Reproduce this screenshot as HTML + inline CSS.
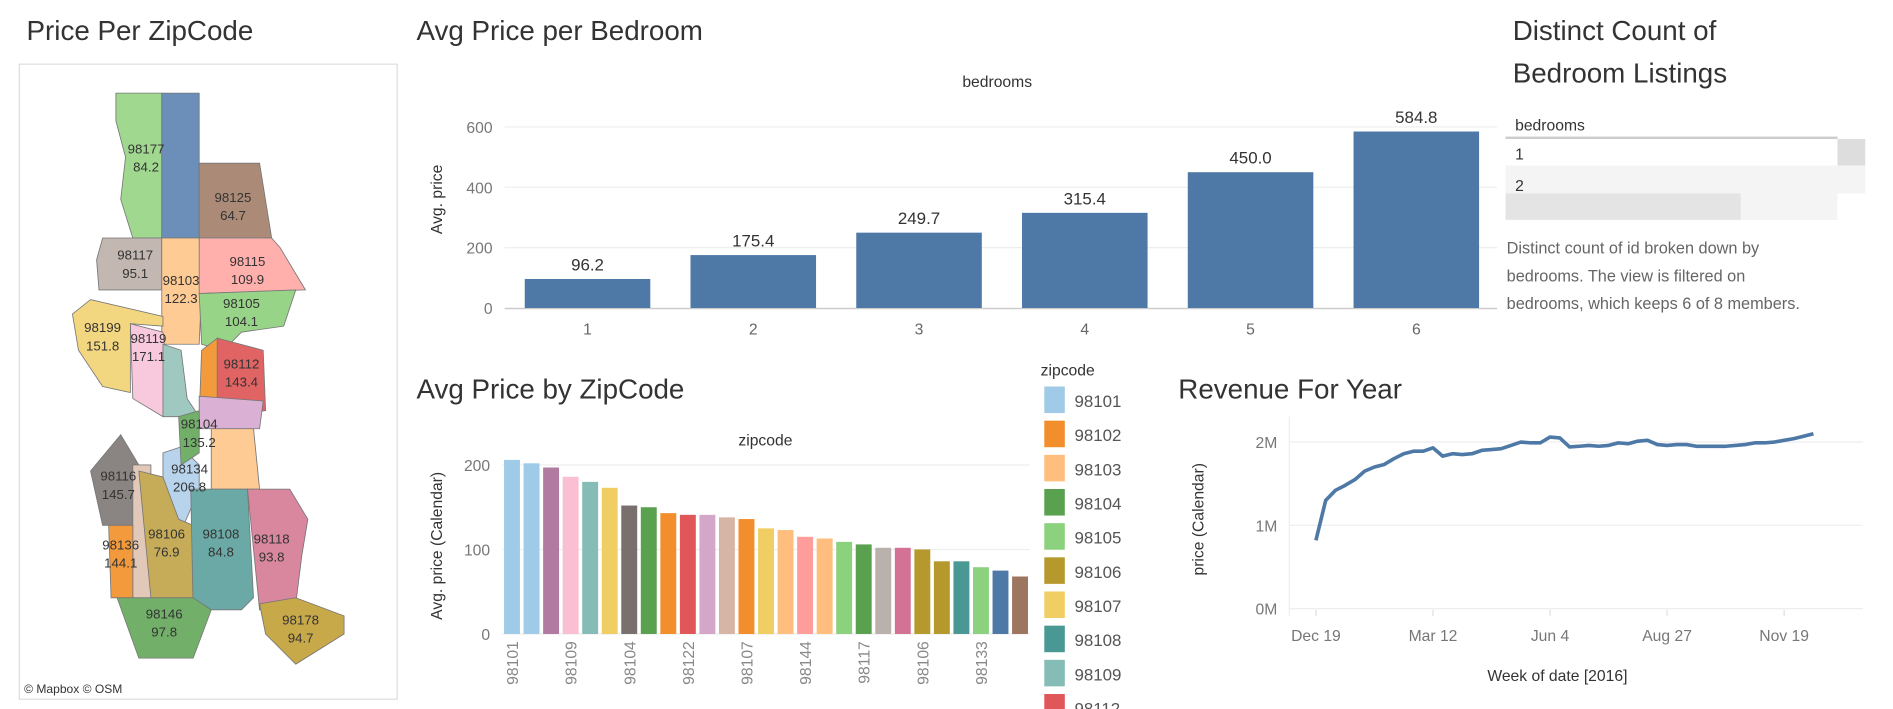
<!DOCTYPE html>
<html><head><meta charset="utf-8"><style>
html,body{margin:0;padding:0;background:#fff;overflow:hidden}
svg{display:block;font-family:"Liberation Sans",sans-serif}
</style></head><body>
<svg id="dash" width="1893" height="709" viewBox="0 0 1568 587" xmlns="http://www.w3.org/2000/svg">
<g>
<text x="22" y="33" font-size="23" fill="#333">Price Per ZipCode</text>
<rect x="16" y="53" width="313" height="526" fill="#fff" stroke="#ddd"/>
<g id="mapg" stroke="#777" stroke-width="0.7"></g>
<text x="20" y="574" font-size="10" fill="#333">© Mapbox  © OSM</text>
</g>
<g>
<text x="345" y="33" font-size="23" fill="#333">Avg Price per Bedroom</text>
<text x="826" y="72" font-size="13" fill="#333" text-anchor="middle">bedrooms</text>
<text transform="translate(366,165) rotate(-90)" font-size="13" fill="#333" text-anchor="middle">Avg. price</text>
<g id="bedg"></g>
</g>
<g>
<text x="1253" y="33" font-size="23" fill="#333">Distinct Count of</text>
<text x="1253" y="68" font-size="23" fill="#333">Bedroom Listings</text>
<text x="1255" y="108" font-size="13" fill="#333">bedrooms</text>
<rect x="1247" y="113" width="275" height="2" fill="#ccc"/>
<rect x="1247" y="115" width="275" height="22" fill="#fff"/>
<rect x="1522" y="115" width="23" height="22" fill="#ddd"/>
<text x="1255" y="132" font-size="13" fill="#333">1</text>
<rect x="1247" y="137" width="298" height="23" fill="#f4f4f4"/>
<text x="1255" y="158" font-size="13" fill="#333">2</text>
<rect x="1247" y="160" width="195" height="22" fill="#e4e4e4"/>
<rect x="1442" y="160" width="80" height="22" fill="#f4f4f4"/>
<text x="1248" y="210" font-size="13.5" fill="#666">Distinct count of id broken down by</text>
<text x="1248" y="233" font-size="13.5" fill="#666">bedrooms. The view is filtered on</text>
<text x="1248" y="256" font-size="13.5" fill="#666">bedrooms, which keeps 6 of 8 members.</text>
</g>
<g>
<text x="345" y="330" font-size="23" fill="#333">Avg Price by ZipCode</text>
<text x="634" y="369" font-size="13" fill="#333" text-anchor="middle">zipcode</text>
<text transform="translate(366,452) rotate(-90)" font-size="13" fill="#333" text-anchor="middle">Avg. price (Calendar)</text>
<g id="zipg"></g>
<text x="862" y="311" font-size="13" fill="#333">zipcode</text>
<g id="legg"></g>
</g>
<g>
<text x="976" y="330" font-size="23" fill="#333">Revenue For Year</text>
<text transform="translate(997,430) rotate(-90)" font-size="13" fill="#333" text-anchor="middle">price (Calendar)</text>
<text x="1290" y="564" font-size="13" fill="#333" text-anchor="middle">Week of date [2016]</text>
<g id="revg"></g>
</g>
</svg>
<script>
const NS="http://www.w3.org/2000/svg";
const bedCats=["1","2","3","4","5","6"];
const bedVals=[96.2,175.4,249.7,315.4,450.0,584.8];
const bedTicks=[0,200,400,600];
const zipCats=["98101","98102b","98119","98109","98199","98107b","98116","98104","98102","98112","98105x","98136","98107","98103","98103b","98144","98115","98105","98117","98125","98118","98106","98106b","98108","98177","98134","98178"];
const zipLabels=["98101","","","98109","","","98104","","","98122","","","98107","","","98144","","","98117","","","98106","","","98133","",""];
const zipVals=[206,202,197,186,180,173,152,150,143,141,141,138,136,125,123,115,113,109,106,102,102,100,86,86,79,75,68];
const zipColors=["#a0cbe8","#a0cbe8","#b07aa1","#fabfd2","#86bcb6","#f1ce63","#79706e","#59a14f","#f28e2b","#e15759","#d4a6c8","#d7b5a6","#f28e2b","#f1ce63","#ffbe7d","#ff9d9a","#ffbe7d","#8cd17d","#59a14f","#bab0ac","#d37295","#b6992d","#b6992d","#499894","#8cd17d","#4e79a7","#9d7660"];
const zipTicks=[0,100,200];
const legendNames=["98101","98102","98103","98104","98105","98106","98107","98108","98109","98112"];
const legendColors=["#a0cbe8","#f28e2b","#ffbe7d","#59a14f","#8cd17d","#b6992d","#f1ce63","#499894","#86bcb6","#e15759"];
const revVals=[0.82,1.3,1.42,1.48,1.55,1.65,1.7,1.73,1.8,1.86,1.89,1.89,1.93,1.83,1.86,1.85,1.86,1.9,1.91,1.92,1.96,2.0,1.99,1.99,2.06,2.05,1.94,1.95,1.96,1.95,1.96,1.99,1.98,2.01,2.02,1.97,1.96,1.97,1.97,1.95,1.95,1.95,1.95,1.96,1.97,1.99,1.99,2.0,2.02,2.04,2.07,2.1];
const revTicks=[0,1,2];
const revTickLabels=["0M","1M","2M"];
const revXTicks=[0,12,24,36,48];
const revXLabels=["Dec 19","Mar 12","Jun 4","Aug 27","Nov 19"];

function el(t,a,p,txt){const e=document.createElementNS(NS,t);for(const k in a)e.setAttribute(k,a[k]);if(txt!==undefined)e.textContent=txt;p.appendChild(e);return e;}

// bedroom chart
(function(){
 const g=document.getElementById('bedg');
 const y=v=>255-v*0.25, x0=418, step=137.3;
 bedTicks.forEach(t=>{el('line',{x1:418,x2:1240,y1:y(t),y2:y(t),stroke:'#eee'},g);
  const tx=el('text',{x:408,y:y(t)+5,'font-size':13,fill:'#777','text-anchor':'end'},g,t);
  });
 bedVals.forEach((v,i)=>{const cx=x0+step*(i+0.5);
  const r=el('rect',{x:cx-52,y:y(v),width:104,height:y(0)-y(v),fill:'#4e79a7'},g);
  
  el('text',{x:cx,y:y(v)-7,'font-size':14,fill:'#333','text-anchor':'middle'},g,v.toFixed(1));
  const l=el('text',{x:cx,y:277,'font-size':13,fill:'#666','text-anchor':'middle'},g,bedCats[i]);
  });
 el('line',{x1:418,x2:1240,y1:255.5,y2:255.5,stroke:'#ccc'},g);
})();

// zip chart
(function(){
 const g=document.getElementById('zipg');
 const y=v=>525-v*0.7, x0=416, step=(853-416)/zipVals.length;
 zipTicks.forEach(t=>{el('line',{x1:416,x2:853,y1:y(t),y2:y(t),stroke:'#eee'},g);
  const tx=el('text',{x:406,y:y(t)+5,'font-size':13,fill:'#777','text-anchor':'end'},g,t);
  });
 zipVals.forEach((v,i)=>{const bx=x0+step*i+1.5;
  const r=el('rect',{x:bx,y:y(v),width:step-3,height:y(0)-y(v),fill:zipColors[i]},g);
  
  if(zipLabels[i]){const cx=bx+(step-3)/2+5;
   const l=el('text',{transform:`translate(${cx},531) rotate(-90)`,'font-size':13,fill:'#888','text-anchor':'end'},g,zipLabels[i]);
   }});
 const lg=document.getElementById('legg');
 legendNames.forEach((n,i)=>{const yy=320+i*28.3;
  const s=el('rect',{x:865,y:yy,width:17,height:22,fill:legendColors[i]},lg);
  
  const t=el('text',{x:890,y:yy+17,'font-size':14,fill:'#555'},lg,n);
  });
 el('rect',{x:865,y:603,width:17,height:4,fill:'#ff9d9a'},lg);
})();

// revenue
(function(){
 const g=document.getElementById('revg');
 const y=v=>504-v*69, x=i=>1090+i*8.08;
 revTicks.forEach((t,i)=>{el('line',{x1:1068,x2:1543,y1:y(t),y2:y(t),stroke:'#eee'},g);
  const tx=el('text',{x:1058,y:y(t)+5,'font-size':13,fill:'#777','text-anchor':'end'},g,revTickLabels[i]);
  });
 el('line',{x1:1068,x2:1068,y1:345,y2:510,stroke:'#eee'},g);
 revXTicks.forEach((t,i)=>{el('line',{x1:x(t),x2:x(t),y1:505,y2:510,stroke:'#ddd'},g);
  const tx=el('text',{x:x(t),y:531,'font-size':13,fill:'#777','text-anchor':'middle'},g,revXLabels[i]);
  });
 const p=el('path',{d:revVals.map((v,i)=>(i?'L':'M')+x(i).toFixed(1)+','+y(v).toFixed(1)).join(''),fill:'none',stroke:'#4e79a7','stroke-width':3,'stroke-linejoin':'round'},g);
 
})();

// map
(function(){
 const g=document.getElementById('mapg');
 const regions=[
 ["98177","#a0d88f","96,77 134,77 134,197 110,197 100,165 104,130 96,100",121,127,84.2],
 ["","#6b8fb8","134,77 165,77 165,197 134,197",0,0,0],
 ["98125","#ab8b78","165,135 215,135 225,197 165,197",193,167,64.7],
 ["98117","#c2b7b1","85,197 134,197 134,240 82,240 80,215",112,215,95.1],
 ["98103","#ffcb94","134,197 165,197 167,240 165,285 134,285 134,240",150,236,122.3],
 ["98115","#ffafac","165,197 225,197 232,205 253,240 165,243",205,220,109.9],
 ["98105","#98d488","165,243 245,240 235,270 200,275 185,290 167,285",200,255,104.1],
 ["98199","#f3d680","60,260 75,248 135,262 135,270 108,268 108,325 85,320 65,290",85,275,151.8],
 ["98119","#f8c8dc","108,268 135,275 140,320 135,345 110,330",123,284,171.1],
 ["","#9ec8c0","135,285 150,290 155,330 165,345 135,345",0,0,0],
 ["","#f39a3c","167,290 180,280 180,345 165,345",0,0,0],
 ["98112","#e06464","180,280 218,290 220,340 180,345",200,305,143.4],
 ["","#dab0d4","165,328 218,332 215,355 165,355",0,0,0],
 ["","#ffcb94","175,355 210,355 215,405 175,405",0,0,0],
 ["98116","#8a8482","75,390 100,360 115,385 112,435 85,435",98,398,145.7],
 ["98134","#b8d4ec","135,375 150,370 165,385 165,405 150,440 135,440",157,392,206.8],
 ["98104","#72b06a","148,345 165,340 165,375 150,385",165,355,135.2],
 ["","#e2c8b8","110,385 125,385 125,495 110,495",0,0,0],
 ["98136","#f39a3c","90,435 110,435 110,495 92,495",100,455,144.1],
 ["98106","#c6ac58","115,390 135,395 148,430 160,435 160,495 125,495",138,446,76.9],
 ["98108","#6aa9a5","158,405 205,405 210,495 200,505 160,505",183,446,84.8],
 ["98118","#d9869f","205,405 240,405 255,430 250,460 245,500 215,505",225,450,93.8],
 ["98146","#72b06a","97,495 160,495 175,505 160,545 115,545",136,512,97.8],
 ["98178","#c8a94a","215,500 245,495 285,510 285,525 245,550 220,525",249,517,94.7]];
 regions.forEach(r=>{const p=el('polygon',{points:r[2],fill:r[1]},g);
  });
 regions.forEach(r=>{if(!r[0])return;
  el('text',{x:r[3],y:r[4],'font-size':11,fill:'#333','text-anchor':'middle',stroke:'none'},g,r[0]);
  el('text',{x:r[3],y:r[4]+15,'font-size':11,fill:'#333','text-anchor':'middle',stroke:'none'},g,r[5].toFixed(1));});
})();
</script>
</body></html>
